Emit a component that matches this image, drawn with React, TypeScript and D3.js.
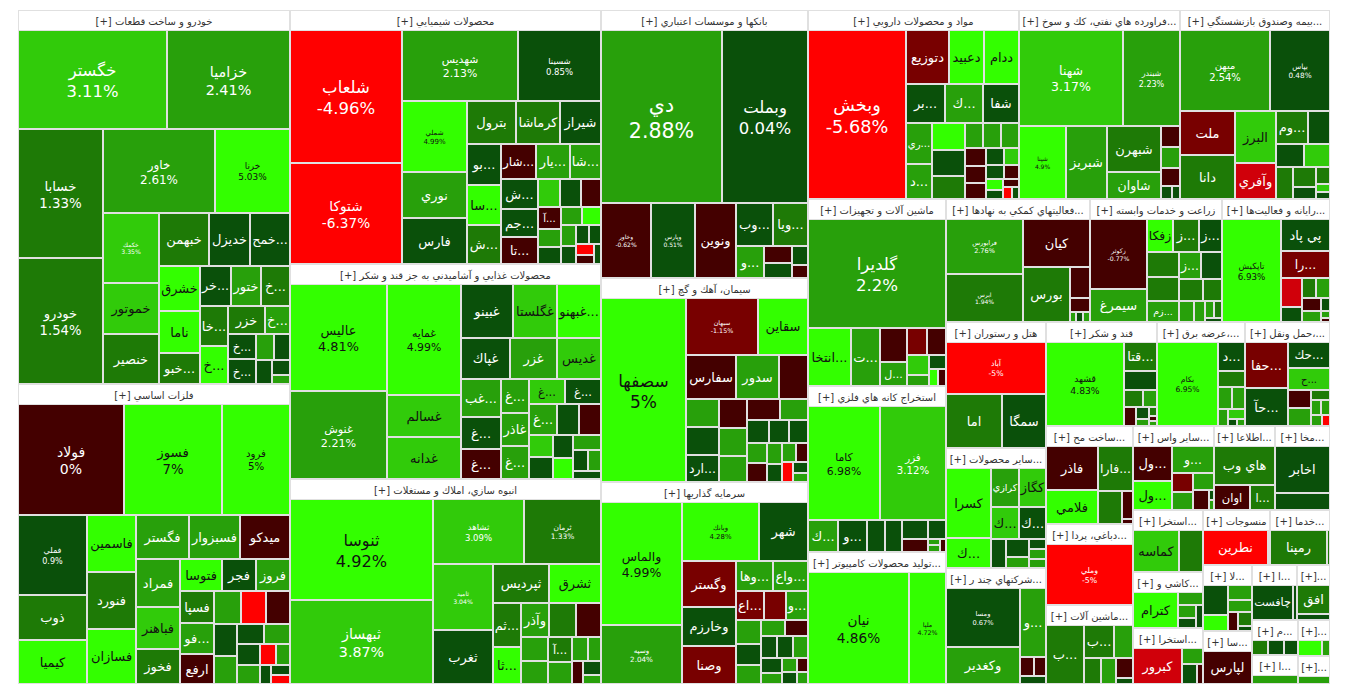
import React from 'react';
import * as d3 from 'd3';

type Stock = [string, number, number];

const SECTOR_NAMES: string[] = [
  'خودرو و ساخت قطعات', 'فلزات اساسي', 'محصولات شيميايي', 'محصولات غذايي و آشاميدني به جز قند و شكر',
  'انبوه سازي، املاك و مستغلات', 'بانكها و موسسات اعتباري', 'سيمان، آهك و گچ', 'سرمايه گذاريها',
  'مواد و محصولات دارويي', 'فراورده هاي نفتي، كك و سوخت هسته اي', 'بيمه وصندوق بازنشستگي به جز تامين اجتماعي',
  'ماشين آلات و تجهيزات', 'استخراج كانه هاي فلزي', 'توليد محصولات كامپيوتري الكترونيكي ونوري',
  'فعاليتهاي كمكي به نهادهاي مالي واسط', 'زراعت و خدمات وابسته', 'رايانه و فعاليت‌هاي وابسته به آن',
  'هتل و رستوران', 'ساير محصولات كاني غيرفلزي', 'شركتهاي چند رشته اي صنعتي', 'قند و شكر',
  'عرضه برق، گاز، بخاروآب گرم', 'حمل ونقل، انبارداري و ارتباطات', 'ساخت محصولات فلزي',
  'دباغي، پرداخت چرم و ساخت انواع پاپوش', 'ماشين آلات و دستگاههاي برقي', 'ساير واسطه گريهاي مالي',
  'اطلاعات و ارتباطات', 'مخابرات', 'استخراج زغال سنگ', 'كاشي و سراميك', 'استخراج ساير معادن',
  'منسوجات', 'خدمات فني و مهندسي', 'لاستيك و پلاستيك', 'ساخت دستگاهها و وسايل ارتباطي',
  'انتشار، چاپ و تكثير', '', 'محصولات چوبي', '', 'استخراج نفت گاز و خدمات جنبي', '',
];

const SECTOR_SIZES: number[] = [
  101.7, 81.6, 78.7, 66.7, 63.5, 55.5, 42.2, 41.8, 39.7, 30.5, 28.2, 25.8, 22.9, 18.2, 17.8, 16.2,
  13.3, 12.6, 12.1, 11.6, 11.5, 9.2, 8.9, 8.5, 7.0, 6.9, 6.7, 5.1, 4.6, 4.3, 3.9, 3.9, 3.7, 3.3,
  3.2, 2.6, 2.5, 1.8, 1.6, 1.15, 1.33, 0.9,
];

const KHODRO: Stock[] = [
  ['خگستر', 14500, 3.11], ['خزاميا', 12000, 2.41], ['خسابا', 10800, 1.33], ['خودرو', 10600, 1.54],
  ['خاور', 9200, 2.61], ['خرنا', 6150, 5.03], ['خكمك', 3850, 3.35], ['خموتور', 2800, 3.4],
  ['خنصير', 2750, 1.5], ['خبهمن', 2600, 1.6], ['خديزل', 2150, 0.6], ['خمح...', 2100, 0.7],
  ['خشرق', 1800, 5.2], ['ناما', 1680, 4.9], ['خبو...', 1240, 1.4], ['خر...', 1200, 0.5],
  ['ختور', 1190, 2.3], ['خ...', 1130, 1.5], ['خا...', 1120, 1.2], ['خ...', 1040, 4.8],
  ['خزر', 1000, 1.7], ['خ...', 700, 2.4], ['خ...', 690, 0.3], ['خ...', 680, 0.4],
  ['', 475, 2.5], ['', 400, 0.5], ['', 390, 0.6], ['', 270, 0.4], ['', 150, 2.8],
];
const FELEZAT: Stock[] = [
  ['فولاد', 10800, 0], ['فسوز', 9970, 7], ['فرود', 6990, 5], ['فملي', 5100, 0.9],
  ['ذوب', 2850, 1.6], ['كيميا', 2800, 4.9], ['فاسمين', 2600, 4.8], ['فنورد', 2550, 1.5],
  ['فسازان', 2500, 4.7], ['فگستر', 2170, 2.6], ['فسبزوار', 2100, 2.4], ['ميدكو', 2050, -0.3],
  ['فمراد', 1900, 2.3], ['فباهنر', 1700, 3.6], ['فخوز', 1400, 1.5], ['فتوسا', 1250, 4.9],
  ['فجر', 1000, 0.6], ['فروز', 990, 2.3], ['فسپا', 980, 1.6], ['فو...', 960, 2.4],
  ['ارفع', 940, -0.6], ['', 840, 2.5], ['', 750, -4.5], ['', 720, -0.4], ['', 680, 0.5],
  ['', 620, 2.2], ['', 500, 0.4], ['', 470, 2.1], ['', 440, 0.6], ['', 400, 2.3],
  ['', 300, -4.2], ['', 260, 2.6], ['', 200, 0.5], ['', 180, 0.7], ['', 150, -4.1],
];
const SHIMI: Stock[] = [
  ['شلعاب', 13500, -4.96], ['شتوكا', 10300, -6.37], ['شهديس', 7500, 2.13], ['شسينا', 5330, 0.85],
  ['شملي', 4130, 4.99], ['نوري', 2700, 2.5], ['فارس', 2690, 0.7], ['بترول', 1900, 1.6],
  ['كرماشا', 1680, 1.5], ['شيراز', 1600, 0.8], ['بو...', 1290, 0.6], ['سا...', 1230, 5.1],
  ['ش...', 1200, 1.8], ['شار...', 1120, -0.6], ['يار...', 1110, 2.2], ['شا...', 1000, 2.3],
  ['ش...', 990, 0.5], ['جم...', 950, 0.4], ['تا...', 930, -0.7], ['', 560, 3.6], ['', 530, 0.5],
  ['', 500, -0.8], ['آ...', 460, -0.9], ['', 380, 2.4], ['', 350, 0.5], ['', 330, 2.2],
  ['', 300, 4.8], ['', 280, 2.1], ['', 250, 0.4], ['', 220, 0.6], ['', 200, 0.3],
  ['', 180, -4.5], ['', 150, -0.5], ['', 120, 0.5],
];
const GHAZA: Stock[] = [
  ['عاليس', 9660, 4.81], ['غنوش', 7900, 2.21], ['غمايه', 7560, 4.99], ['غسالم', 2870, 3.8],
  ['غدانه', 2860, 3.7], ['غبينو', 2600, 0.6], ['غگلستا', 2210, 3.9], ['غبهنو...', 2190, 4.9],
  ['غپاك', 1920, 0.5], ['غزر', 1800, 2.4], ['غديس', 1680, 3.6], ['غب...', 1400, 2.2],
  ['غ...', 1200, 0.6], ['غ...', 1100, -0.8], ['غ...', 900, 2.3], ['غاذر', 880, 2.2],
  ['غ...', 860, 2.5], ['غ...', 840, 3.6], ['غ...', 820, 0.6], ['غ...', 800, 2.3],
  ['', 650, 0.5], ['', 620, -0.9], ['', 500, 3.7], ['', 480, 0.4], ['', 420, 0.5],
  ['', 400, 4.8], ['', 380, 2.4], ['', 300, 0.6], ['', 250, 2.2], ['', 200, 0.5],
];
const ANBOOH: Stock[] = [
  ['ثنوسا', 13560, 4.92], ['ثبهساز', 11230, 3.87], ['ثشاهد', 5500, 3.09], ['ثرمان', 4640, 1.33],
  ['ثاميد', 3700, 3.04], ['ثغرب', 3000, 0.55], ['ثپرديس', 2070, 1.6], ['ثشرق', 1890, 4.8],
  ['ثم...', 1150, 1.7], ['ثا...', 950, 5.0], ['وآذر', 900, 2.3], ['', 880, 1.6], ['', 800, -0.9],
  ['', 600, 2.3], ['', 600, 2.1], ['آ...', 550, 1.5], ['', 500, 2.2], ['', 350, 2.2],
  ['', 300, 2.4], ['', 250, -0.8], ['', 230, 0.5], ['', 150, 2.3],
];
const BANK: Stock[] = [
  ['دي', 19820, 2.88], ['وبملت', 14100, 0.04], ['وخاور', 3530, -0.62], ['وپارس', 3150, 0.51],
  ['ونوين', 2930, -0.5], ['وب...', 1500, 0.5], ['ويا...', 1420, 1.2], ['و...', 870, 2.0],
  ['', 450, -0.8], ['', 400, 0.3], ['', 300, 0.2], ['', 200, -0.9],
];
const SIMAN: Stock[] = [
  ['سصفها', 13600, 5], ['سبهان', 3590, -1.15], ['سقاين', 2500, 5.2], ['سفارس', 1880, -0.8],
  ['سدور', 1640, 2.6], ['', 1080, -0.7], ['', 810, 2.4], ['', 780, 0.6], ['ارد...', 760, 0.5],
  ['', 720, -0.8], ['', 700, 2.3], ['', 650, 2.2], ['', 600, -0.7], ['', 500, 2.5],
  ['', 450, 0.5], ['', 400, 0.4], ['', 380, 0.6], ['', 350, 2.1], ['', 320, -0.6],
  ['', 280, 2.3], ['', 250, 0.5], ['', 220, 2.2], ['', 200, -0.9], ['', 180, -4.6],
  ['', 150, 0.4], ['', 120, 2.2],
];
const SARMAYEH: Stock[] = [
  ['والماس', 8500, 4.99], ['وسپه', 4100, 2.04], ['وبانك', 3950, 4.28], ['شهر', 2500, 0.6],
  ['وگستر', 2160, -1.4], ['وخارزم', 1820, 0.6], ['وصنا', 1800, -1.4], ['وها...', 925, 2.3],
  ['واع...', 900, 2.2], ['اع...', 675, -1.2], ['', 550, -1.1], ['و...', 550, 2.3], ['', 500, 2.4],
  ['', 460, 0.5], ['', 400, 2.2], ['', 340, 2.3], ['', 320, -0.8], ['', 300, 0.5], ['', 300, 0.6],
  ['', 280, 2.2], ['', 250, 0.5], ['', 200, 2.4], ['', 180, 2.3], ['', 150, 0.5], ['', 130, -0.8],
  ['', 120, 2.2],
];
const DAROO: Stock[] = [
  ['وبخش', 12700, -5.68], ['دتوزيع', 1800, -1.3], ['دعبيد', 1500, 5.1], ['ددام', 1450, 4.9],
  ['بر...', 1150, 0.6], ['ك...', 1120, 2.3], ['شفا', 1050, 0.7], ['ري...', 840, 2.4],
  ['د...', 710, 2.2], ['', 700, 4.8], ['', 650, 0.5], ['', 590, 1.5], ['', 350, 2.3],
  ['', 350, 2.2], ['', 340, 2.4], ['', 300, -0.7], ['', 280, -0.8], ['', 260, -0.6],
  ['', 240, 0.5], ['', 200, 3.5], ['', 180, 0.6], ['', 160, -0.5], ['', 140, 4.7],
  ['', 120, 0.4], ['', 100, -0.7], ['', 80, -4.8], ['', 70, 0.5],
];
const NAFT: Stock[] = [
  ['شهنا', 9090, 3.17], ['شبندر', 4950, 2.23], ['شپنا', 3100, 4.9], ['شبريز', 2740, 2.5],
  ['شبهرن', 2290, 1.6], ['شاوان', 1350, 2.4], ['', 360, -0.8], ['', 360, 2.3], ['', 300, -0.9],
  ['', 130, 0.5], ['', 90, 0.6],
];
const BIMEH: Stock[] = [
  ['ميهن', 6360, 2.54], ['بپاس', 4290, 0.48], ['ملت', 2100, -1.5], ['دانا', 2090, 1.6],
  ['البرز', 1890, 3.6], ['وآفري', 1300, -3.5], ['وم...', 930, 1.6], ['', 640, 0.5],
  ['', 550, 0.6], ['', 530, 3.5], ['', 480, 1.5], ['', 400, 1.4], ['', 230, 0.5],
  ['', 200, 1.6], ['', 100, 3.6], ['', 90, 0.5],
];
const MASHIN: Stock[] = [
  ['گلديرا', 13770, 2.2], ['انتخا...', 2260, 4.7], ['ت...', 1510, 2.4], ['', 825, -0.5],
  ['ل...', 600, 2.2], ['', 500, -1.5], ['', 450, -0.3], ['', 400, 3.5], ['', 230, 2.5],
  ['', 220, 0.5], ['', 150, 5], ['', 120, -0.6],
];
const KANEH: Stock[] = [
  ['كاما', 7380, 6.98], ['فزر', 6850, 3.12], ['ك...', 860, 2.3], ['و...', 830, 0.6],
  ['', 530, 0.5], ['', 480, 0.6], ['', 450, 0.4], ['', 320, -0.7], ['', 300, 0.5],
  ['', 70, 2.2], ['', 70, 2.4], ['', 70, -0.6],
];
const COMPUTER: Stock[] = [['نيان', 10570, 4.86], ['ملپا', 3920, 4.72]];
const KOMAKI: Stock[] = [
  ['فرابورس', 3850, 2.76], ['ابرس', 3330, 1.94], ['كيان', 2930, -0.7], ['بورس', 2290, 1.5],
  ['ا...', 570, -0.8], ['', 260, -0.7], ['', 60, 2.3], ['', 60, 0.5], ['', 60, 2.2],
];
const ZERAAT: Stock[] = [
  ['زكوثر', 3300, -0.77], ['سيمرغ', 1550, 2.1], ['زفكا', 700, 5.1], ['ز...', 700, 1.6],
  ['ز...', 640, 0.6], ['', 640, 1.5], ['', 620, 1.7], ['زم...', 560, 2.3], ['ز...', 480, 2.4],
  ['ز...', 460, 0.6], ['', 440, 1.5], ['', 360, 1.6], ['', 260, 2.3], ['', 180, 2.2],
  ['', 120, 2.4], ['', 110, 1.5], ['', 60, 0.5],
];
const RAYANEH: Stock[] = [
  ['تاپكيش', 5250, 6.93], ['پي پاد', 1370, 0.5], ['را...', 1120, -1.2], ['', 525, -2.2],
  ['', 270, 0.5], ['', 250, 1.5], ['', 240, 2.3], ['', 220, -0.8], ['', 180, 2.2],
  ['', 100, 0.5], ['', 60, 2.4], ['', 30, -0.6],
];
const HOTEL: Stock[] = [['آباد', 4700, -5], ['اما', 2760, 1.32], ['سمگا', 2130, 0.6]];
const GHAND: Stock[] = [
  ['قشهد', 5990, 4.83], ['قتا...', 880, 1.6], ['', 540, 0.6], ['', 290, 1.5], ['', 230, 2.3],
  ['', 200, -0.8], ['', 140, 0.5], ['', 90, 2.2], ['', 70, 1.4], ['', 35, -0.6], ['', 35, 2.3],
];
const BARGH: Stock[] = [
  ['بكام', 4430, 6.95], ['د...', 680, 0.6], ['', 380, 1.5], ['', 260, 2.3], ['', 240, 2.2],
  ['', 150, 2.4], ['', 150, 3.5], ['', 60, 0.5], ['', 50, 2.3],
];
const HAML: Stock[] = [
  ['حفا...', 1670, -1.2], ['حآ...', 1370, 0.6], ['حك...', 920, 0.6], ['ح...', 750, 3.7],
  ['', 350, -0.8], ['', 340, 2.3], ['', 160, 1.5], ['', 120, 2.2], ['', 110, 2.3],
  ['', 100, 2.4], ['', 80, -4.5],
];
const KANI: Stock[] = [
  ['كسرا', 2700, 5], ['ك...', 1150, 4.8], ['كرازي', 950, 2.3], ['كگاز', 910, 3.5],
  ['ك...', 760, 3.6], ['ك...', 730, 0.6], ['', 380, 0.5], ['', 360, 0.6], ['', 220, 2.3],
  ['', 150, 0.5], ['', 150, 2.4], ['', 140, 2.2],
];
const CHAND: Stock[] = [
  ['ومسا', 3930, 0.67], ['وكغدير', 2420, 2.3], ['و...', 1600, 2.2], ['', 250, -0.8],
  ['', 200, -0.6], ['', 180, 0.5],
];
const FELEZI: Stock[] = [
  ['فاذر', 1920, -0.5], ['فلامي', 1490, 4.8], ['فارا...', 1320, 1.6], ['', 650, 1.5],
  ['', 260, -0.8], ['', 50, -0.7],
];
const DABBAGHI: Stock[] = [['وملي', 4800, -5]];
const BARGHI: Stock[] = [
  ['ب...', 1910, 1.6], ['ب...', 840, 1.5], ['', 540, 2.3], ['', 390, 1.5], ['', 330, 2.2],
  ['', 300, -0.8], ['', 80, 0.5],
];
const VASETEH: Stock[] = [
  ['ول...', 1190, -0.8], ['ول...', 1000, 4.5], ['و...', 980, 2.3], ['', 350, -1.2],
  ['', 320, 2.2], ['', 300, 2.4], ['', 290, -0.7], ['', 40, 0.5], ['', 40, 2.3],
];
const ETELAAT: Stock[] = [['هاي وب', 1900, 1.6], ['اوان', 740, -0.7], ['ا...', 500, 1.5]];
const MOKHABERAT: Stock[] = [['اخابر', 2140, 0.6], ['', 770, 0.4]];
const ZOGHAL: Stock[] = [['كماسه', 1600, 3.5], ['', 840, 1.6]];
const KASHI: Stock[] = [
  ['كترام', 1330, 4.9], ['', 270, 2.3], ['', 200, 2.2], ['', 160, 0.6], ['', 130, 0.5],
];
const MAADEN: Stock[] = [['كبرور', 1580, -3.5], ['', 300, 2.3], ['', 260, 0.6], ['', 100, -0.8]];
const NASAJI: Stock[] = [['نطرين', 1980, -4.8], ['', 60, -4.6]];
const FANI: Stock[] = [['رمپنا', 1630, 1.6], ['', 100, 1.5]];
const LASTIK: Stock[] = [
  ['', 570, 0.6], ['', 300, 4.8], ['', 260, 2.3], ['', 220, 2.2], ['', 140, -0.8],
  ['', 140, 1.5], ['', 50, 0.5],
];
const DASTGAH: Stock[] = [['لپارس', 1500, -0.6]];
const ENTESHAR: Stock[] = [['چافست', 1420, 0.6], ['', 150, 0.5]];
const KHORDE: Stock[] = [['افق', 700, 1.5], ['', 150, 0.5]];
const CHOOB: Stock[] = [['', 200, 1.6], ['', 200, 0.6], ['', 180, 0.5]];
const KAGHAZ: Stock[] = [['', 250, 4.8], ['', 80, 2.2]];
const NAFTGAS: Stock[] = [['', 300, 2.3]];
const HONARI: Stock[] = [['', 180, 2.2]];

const SECTOR_STOCKS: Stock[][] = [
  KHODRO, FELEZAT, SHIMI, GHAZA, ANBOOH, BANK, SIMAN, SARMAYEH, DAROO, NAFT, BIMEH, MASHIN,
  KANEH, COMPUTER, KOMAKI, ZERAAT, RAYANEH, HOTEL, KANI, CHAND, GHAND, BARGH, HAML, FELEZI,
  DABBAGHI, BARGHI, VASETEH, ETELAAT, MOKHABERAT, ZOGHAL, KASHI, MAADEN, NASAJI, FANI, LASTIK,
  DASTGAH, ENTESHAR, KHORDE, CHOOB, KAGHAZ, NAFTGAS, HONARI,
];

const COLOR_STEPS = [-4, -2, -1, 0.01, 1, 2, 3, 4];
const COLOR_RANGE = ['#ff0000', '#d0000a', '#780000', '#440000', '#0a500a', '#1e7a06', '#28a00b', '#31cb0a', '#33ff00'];

const FONT = '"DejaVu Sans", sans-serif';
const HFS = 10;

let measureCtx: CanvasRenderingContext2D | null = null;
function measure(text: string, size: number): number {
  if (!measureCtx) {
    const c = document.createElement('canvas');
    measureCtx = c.getContext('2d');
  }
  if (!measureCtx) return text.length * size * 0.6;
  measureCtx.font = `100px "DejaVu Sans"`;
  return (measureCtx.measureText(text).width * size) / 100;
}

function headerText(name: string, w: number): string {
  const avail = w - 6;
  const full = name ? `[+] ${name}` : '[+]...';
  if (!name || measure(full, HFS) <= avail) return full;
  for (let k = name.length - 1; k >= 0; k--) {
    const part = name.slice(0, k).trim();
    const t = part ? `[+] ${part}...` : '[+]...';
    if (measure(t, HFS) <= avail || k === 0) return t;
  }
  return '[+]...';
}

function CellLabel({ x, y, w, h, name, pct }: { x: number; y: number; w: number; h: number; name: string; pct: number }) {
  if (!name) return null;
  const s = Math.sqrt(w * h);
  const cx = x + w / 2;
  const cy = y + h / 2;
  const pctText = `${pct}%`;
  if (s >= 55) {
    let f = s >= 95 ? 12 + (s - 95) * 0.18 : Math.max(6, 6 + (s - 60) * 0.17);
    const k = 1.0;
    f = Math.min(f, (0.92 * w) / (measure(name, 1) * k), (0.92 * w) / measure(pctText, 1), h / 2.6);
    if (f < 4) return null;
    const fill = pct >= 4 ? '#111' : '#fff';
    return (
      <g fill={fill} fontFamily={FONT} textAnchor="middle">
        <text x={cx} y={cy - 0.2 * f} fontSize={f * k}>{name}</text>
        <text x={cx} y={cy + 1.06 * f} fontSize={f}>{pctText}</text>
      </g>
    );
  }
  if (w >= 20 && h >= 18) {
    const f = Math.min(13, h * 0.5, (0.94 * w) / measure(name, 1));
    if (f < 7) return null;
    const fill = pct >= 3 ? '#111' : '#fff';
    return (
      <text x={cx} y={cy + 0.35 * f} fontSize={f} fill={fill} fontFamily={FONT} textAnchor="middle">
        {name}
      </text>
    );
  }
  return null;
}

export default function App() {
  const W = 1312;
  const H = 674;
  const OX = 18;
  const OY = 10;
  const color = d3.scaleThreshold<number, string>().domain(COLOR_STEPS).range(COLOR_RANGE);

  const sectorData = SECTOR_NAMES.map((name, i) => ({ name, size: SECTOR_SIZES[i], stocks: SECTOR_STOCKS[i] }));
  const root = d3
    .hierarchy<any>({ children: sectorData })
    .sum((d: any) => d.size || 0)
    .sort((a, b) => (b.value || 0) - (a.value || 0));
  d3.treemap<any>().tile(d3.treemapSquarify.ratio(1)).size([W, H]).round(false)(root);
  const sectors = root.leaves() as d3.HierarchyRectangularNode<any>[];

  const rnd = (v: number) => Math.round(v);

  return (
    <div style={{ position: 'absolute', left: 0, top: 0, width: 1350, height: 698, background: '#fff' }}>
      <svg width={1350} height={698} style={{ display: 'block' }}>
        <rect x={0} y={0} width={1350} height={698} fill="#fff" />
        <g transform={`translate(${OX},${OY})`}>
          {sectors.map((sec, si) => {
            const x0 = rnd(sec.x0);
            const y0 = rnd(sec.y0);
            const x1 = rnd(sec.x1);
            const y1 = rnd(sec.y1);
            const w = x1 - x0;
            const h = y1 - y0;
            const stocks: Stock[] = sec.data.stocks;
            const iw = Math.max(0, w - 2);
            const ih = Math.max(0, h - 22);
            const sroot = d3
              .hierarchy<any>({ children: stocks.map((s) => ({ name: s[0], v: s[1], pct: s[2] })) })
              .sum((d: any) => d.v || 0)
              .sort((a, b) => (b.value || 0) - (a.value || 0));
            d3.treemap<any>().tile(d3.treemapSquarify.ratio(1)).size([iw, ih]).paddingInner(2).round(false)(sroot);
            const cells = sroot.leaves() as d3.HierarchyRectangularNode<any>[];
            const label = headerText(sec.data.name, w);
            return (
              <g key={si}>
                <rect x={x0} y={y0} width={w} height={h} fill="#e0e0e0" />
                <rect x={x0 + 1} y={y0 + 1} width={w - 2} height={19} fill="#fff" />
                <text
                  x={x0 + w / 2}
                  y={y0 + 14.5}
                  fontSize={HFS}
                  fill="#333"
                  fontFamily={FONT}
                  textAnchor="middle"
                >
                  {label}
                </text>
                {ih > 0 &&
                  cells.map((c, ci) => {
                    const cx0 = rnd(x0 + 1 + c.x0);
                    const cy0 = rnd(y0 + 21 + c.y0);
                    const cw = rnd(x0 + 1 + c.x1) - cx0;
                    const ch = rnd(y0 + 21 + c.y1) - cy0;
                    if (cw <= 0 || ch <= 0) return null;
                    return (
                      <g key={ci}>
                        <rect x={cx0} y={cy0} width={cw} height={ch} fill={color(c.data.pct)} />
                        <CellLabel x={cx0} y={cy0} w={cw} h={ch} name={c.data.name} pct={c.data.pct} />
                      </g>
                    );
                  })}
              </g>
            );
          })}
        </g>
      </svg>
    </div>
  );
}
